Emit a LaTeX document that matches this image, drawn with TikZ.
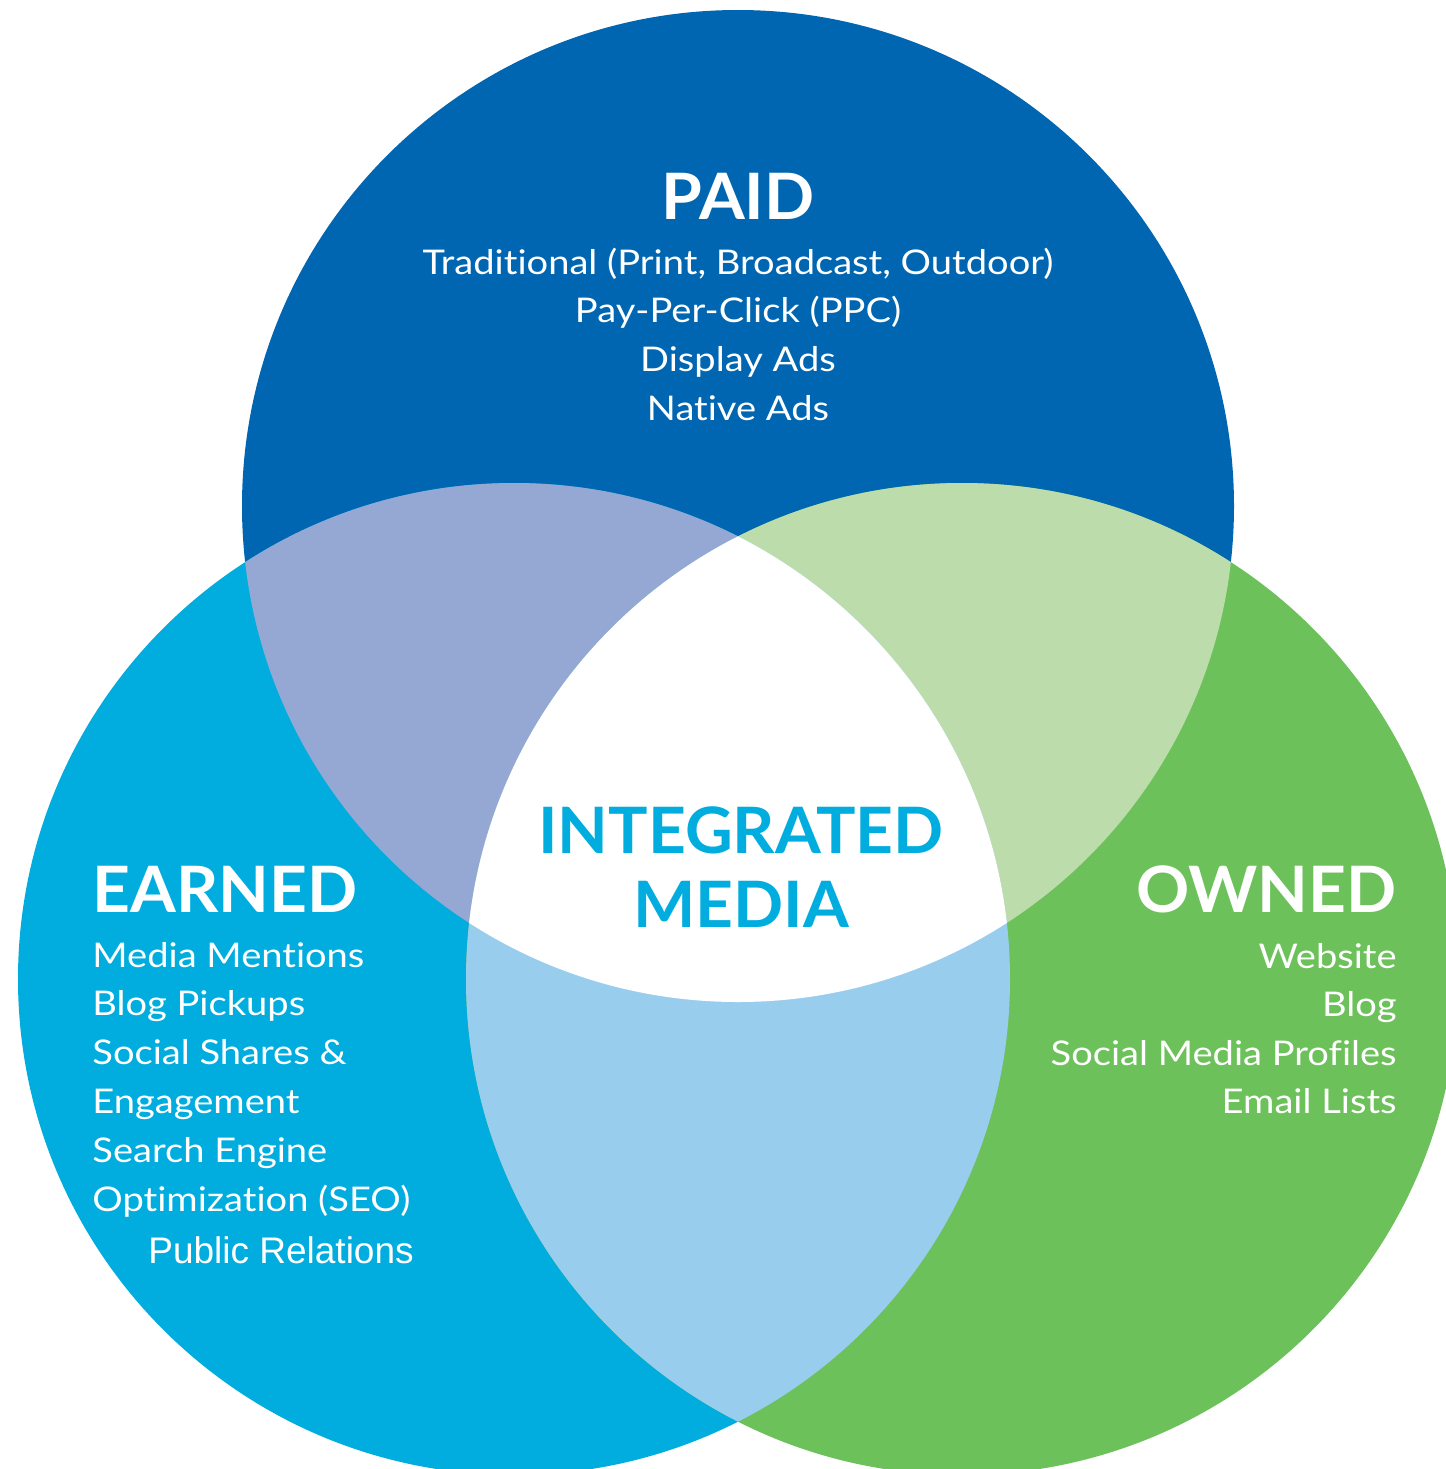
\documentclass[tikz,border=0pt]{standalone}
\usepackage{fontspec}
\setmainfont{Lato}
\newfontfamily\headfont{Lato}[FakeStretch=1.03]
\newfontfamily\itemfont{Lato}[FakeStretch=1.12,Ligatures=NoCommon]
\newfontfamily\prfont{Liberation Sans}
\definecolor{paidblue}{HTML}{0066B1}
\definecolor{earnedcyan}{HTML}{00ADDE}
\definecolor{ownedgreen}{HTML}{6CC15A}
\definecolor{paidearned}{HTML}{95A8D4}
\definecolor{paidowned}{HTML}{BDDCAB}
\definecolor{earnedowned}{HTML}{99CDEE}
\begin{document}
\begin{tikzpicture}[x=0.5pt,y=-0.5pt,
	head/.style={text=white,font=\headfont\fontsize{32}{36}\selectfont\bfseries,inner sep=0pt},
	item/.style={text=white,font=\itemfont\fontsize{17}{20}\selectfont,inner sep=0pt}]
			\useasboundingbox (0,0) rectangle (1446,1469);
			%Centres
			\coordinate (paid) at (738,506);
			\coordinate (earned) at (514,979);
			\coordinate (owned) at (962,979);
			%Circles
			\fill[paidblue] (paid) circle (248pt);
			\fill[earnedcyan] (earned) circle (248pt);
			\fill[ownedgreen] (owned) circle (248pt);
			%Overlaps
			\begin{scope}
				\clip (paid) circle (248pt);
				\fill[paidearned] (earned) circle (248pt);
				\fill[paidowned] (owned) circle (248pt);
			\end{scope}
			\begin{scope}
				\clip (earned) circle (248pt);
				\fill[earnedowned] (owned) circle (248pt);
				\clip (paid) circle (248pt);
				\fill[white] (owned) circle (248pt);
			\end{scope}
			%Paid
			\node[head,anchor=base] (paidhead) at (738,219) {PAID};
			\foreach \txt [count=\i] in {{Traditional (Print, Broadcast, Outdoor)},{Pay-Per-Click (PPC)},{Display Ads},{Native Ads}}
				{
					\node[item,anchor=base] (paid\i) at (738,{274+48.7*(\i-1)}) {\txt};
				}
			%Centre
			\node[head,text=earnedcyan,anchor=base] (integrated) at (741,853) {INTEGRATED};
			\node[head,text=earnedcyan,anchor=base] (media) at (741,927) {MEDIA};
			%Earned
			\node[head,anchor=base west] (earnedhead) at (92,912) {EARNED};
			\foreach \txt [count=\i] in {Media Mentions,Blog Pickups,Social Shares \&,Engagement,Search Engine,Optimization (SEO)}
				{
					\node[item,anchor=base west] (earned\i) at (92,{967+48.8*(\i-1)}) {\txt};
				}
			\node[item,font=\prfont\fontsize{18.5}{20}\selectfont,anchor=base west] (pr) at (148,1263) {Public Relations};
			%Owned
			\node[head,anchor=base east] (ownedhead) at (1397,912) {OWNED};
			\foreach \txt [count=\i] in {Website,Blog,Social Media Profiles,Email Lists}
				{
					\node[item,anchor=base east] (owned\i) at (1397,{968+48.5*(\i-1)}) {\txt};
				}
		\end{tikzpicture}
\end{document}
